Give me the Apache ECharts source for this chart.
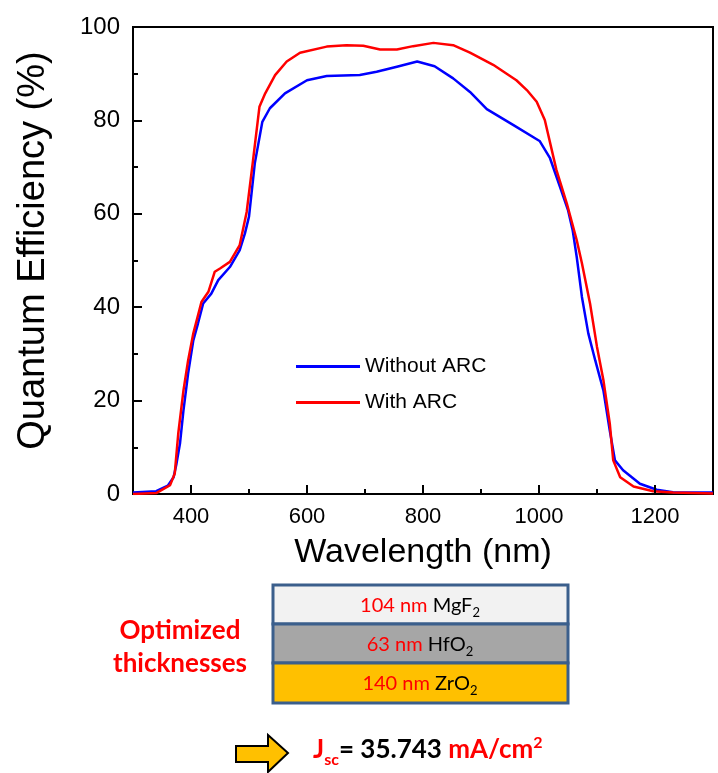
<!DOCTYPE html>
<html>
<head>
<meta charset="utf-8">
<script src="https://cdn.jsdelivr.net/npm/echarts@6/dist/echarts.min.js"></script>
<style>
html,body{margin:0;padding:0;background:#fff;}
#c{width:718px;height:773px;}
</style>
</head>
<body>
<div id="c"></div>
<script>
// ---- data ----
const seriesNames = ['Without ARC', 'With ARC'];
const wlWithout = [300,340,360,370,375,381,387,395,404,412,421,435,447,467,484,493,500,510,523,536,562,600,634,691,720,755,790,820,852,881,910,956,1001,1019,1036,1050,1058,1065,1074,1085,1097,1111,1122,1131,1145,1174,1203,1231,1300];
const qeWithout = [0.3,0.6,1.8,3.6,6.5,10.8,17.9,25.8,32.9,36.5,40.8,42.9,45.8,48.6,52.2,55.8,59.4,70.8,79.7,82.6,85.8,88.6,89.5,89.7,90.4,91.5,92.6,91.6,89.0,86.1,82.4,79.0,75.6,71.9,65.8,60.8,56.5,50.8,42.2,34.4,28.6,22.2,13.6,7.2,5.1,2.2,0.9,0.4,0.3];
const wlWith = [300,340,364,372,378,387,395,404,418,430,441,450,467,484,496,507,518,528,545,565,588,634,668,697,726,755,783,818,852,881,921,961,979,996,1010,1030,1048,1065,1074,1088,1100,1111,1122,1128,1140,1163,1197,1231,1300];
const qeWith = [0.0,0.2,1.9,4.4,12.9,22.2,28.6,34.4,41.1,43.3,47.6,48.3,49.7,53.3,60.4,71.5,82.9,85.8,89.7,92.6,94.5,95.8,96.1,96.0,95.2,95.2,95.9,96.6,96.1,94.5,91.9,88.6,86.5,84.0,80.1,69.4,62.2,54.4,49.4,40.8,31.5,24.4,15.1,7.2,3.6,1.6,0.6,0.3,0.1];
const xMajorTicks = [400,600,800,1000,1200];
const layerThickness = ['104 nm ', '63 nm ', '140 nm '];
const layerMaterial = ['MgF', 'HfO', 'ZrO'];
const jscValue = '35.743';

// ---- chart ----
const chart = echarts.init(document.getElementById('c'));
const AX = 'Liberation Sans, Arial, sans-serif';
const CAL = 'Lato, Carlito, sans-serif';
const black = '#000';

function layerText(i) {
  return '{r|' + layerThickness[i] + '}{k|' + layerMaterial[i] + '}{s|2}';
}
const layerRich = {
  r: {fill: '#ff0000', fontSize: 20, fontFamily: CAL},
  k: {fill: '#000', fontSize: 20, fontFamily: CAL},
  s: {fill: '#000', fontSize: 13, fontFamily: CAL, padding: [14, 0, 0, 0]}
};
const layerFills = ['#f2f2f2', '#a6a6a6', '#ffc000'];
const layerY = [585, 624, 663];
const layerH = [39, 39, 40];

const graphics = [];
for (let i = 0; i < 3; i++) {
  graphics.push({
    type: 'rect', silent: true,
    shape: {x: 273, y: layerY[i], width: 295, height: layerH[i]},
    style: {fill: layerFills[i], stroke: '#3b5f8c', lineWidth: 3}
  });
  graphics.push({
    type: 'text', silent: true,
    style: {
      x: 420, y: layerY[i] + layerH[i] / 2 + 1,
      text: layerText(i), rich: layerRich,
      textAlign: 'center', textVerticalAlign: 'middle'
    }
  });
}
graphics.push({
  type: 'text', silent: true,
  style: {x: 180, y: 631, text: 'Optimized', fill: '#ff0000', font: 'bold 26px ' + CAL, textAlign: 'center', textVerticalAlign: 'middle'}
});
graphics.push({
  type: 'text', silent: true,
  style: {x: 180, y: 664, text: 'thicknesses', fill: '#ff0000', font: 'bold 26px ' + CAL, textAlign: 'center', textVerticalAlign: 'middle'}
});
graphics.push({
  type: 'polygon', silent: true,
  shape: {points: [[236,746],[268,746],[268,735],[288,753],[268,772],[268,762],[236,762]]},
  style: {fill: '#ffc000', stroke: '#000', lineWidth: 2}
});
graphics.push({
  type: 'text', silent: true,
  style: {
    x: 313, y: 750,
    text: '{j|J}{sub|sc}{k|= ' + jscValue + ' }{r|mA/cm}{sup|2}',
    textAlign: 'left', textVerticalAlign: 'middle',
    rich: {
      j: {fill: '#ff0000', fontSize: 26, fontWeight: 'bold', fontFamily: CAL},
      sub: {fill: '#ff0000', fontSize: 16, fontWeight: 'bold', fontFamily: CAL, padding: [20, 0, 0, 0]},
      k: {fill: '#000', fontSize: 26, fontWeight: 'bold', fontFamily: CAL},
      r: {fill: '#ff0000', fontSize: 26, fontWeight: 'bold', fontFamily: CAL},
      sup: {fill: '#ff0000', fontSize: 16, fontWeight: 'bold', fontFamily: CAL, padding: [0, 0, 14, 0]}
    }
  }
});

const option = {
  animation: false,
  backgroundColor: '#fff',
  color: ['#0000ff', '#ff0000'],
  grid: {left: 133, right: 5, top: 27, bottom: 279, show: true, borderColor: black, borderWidth: 2, backgroundColor: 'transparent'},
  legend: {
    data: seriesNames, orient: 'vertical', left: 296, top: 356, padding: 0,
    icon: 'rect', itemWidth: 64, itemHeight: 3, itemGap: 15,
    textStyle: {fontSize: 21, fontFamily: AX, color: black}
  },
  xAxis: {
    type: 'value', min: 300, max: 1300, interval: 100,
    axisLine: {show: true, onZero: false, lineStyle: {color: black, width: 2}},
    axisTick: {show: true, interval: 0, inside: true, length: 5, lineStyle: {color: black, width: 2}},
    axisLabel: {show: true, interval: 0, formatter: v => (xMajorTicks.indexOf(v) >= 0 ? String(v) : ''), fontSize: 22, fontFamily: AX, color: black, margin: 12, hideOverlap: false},
    splitLine: {show: false},
    name: 'Wavelength (nm)', nameLocation: 'middle', nameGap: 42,
    nameTextStyle: {fontSize: 34, fontFamily: AX, color: black}
  },
  yAxis: {
    type: 'value', min: 0, max: 100, interval: 20,
    axisLine: {show: true, onZero: false, lineStyle: {color: black, width: 2}},
    axisTick: {show: true, inside: true, length: 9, lineStyle: {color: black, width: 2}},
    minorTick: {show: true, splitNumber: 2, length: 5, lineStyle: {color: black, width: 2}},
    axisLabel: {fontSize: 24, fontFamily: AX, color: black, margin: 13},
    splitLine: {show: false},
    minorSplitLine: {show: false},
    name: 'Quantum Efficiency (%)', nameLocation: 'middle', nameGap: 80,
    nameTextStyle: {fontSize: 38, fontFamily: AX, color: black, padding: [0, 0, 0, 20]}
  },
  series: [{
    name: seriesNames[0], type: 'line',
    data: wlWithout.map((x, i) => [x, qeWithout[i]]),
    showSymbol: false, smooth: false,
    lineStyle: {width: 2.5, color: '#0000ff'}
  }, {
    name: seriesNames[1], type: 'line',
    data: wlWith.map((x, i) => [x, qeWith[i]]),
    showSymbol: false, smooth: false,
    lineStyle: {width: 2.5, color: '#ff0000'}
  }, {
    name: 'majorTicks', type: 'custom', silent: true, z: 5,
    data: xMajorTicks.map(v => [v, 0]),
    renderItem: function (params, api) {
      const p = api.coord([api.value(0), api.value(1)]);
      return {type: 'line', shape: {x1: p[0], y1: p[1], x2: p[0], y2: p[1] - 9}, style: {stroke: '#000', lineWidth: 2}};
    }
  }],
  graphic: graphics
};
chart.setOption(option);
</script>
</body>
</html>
